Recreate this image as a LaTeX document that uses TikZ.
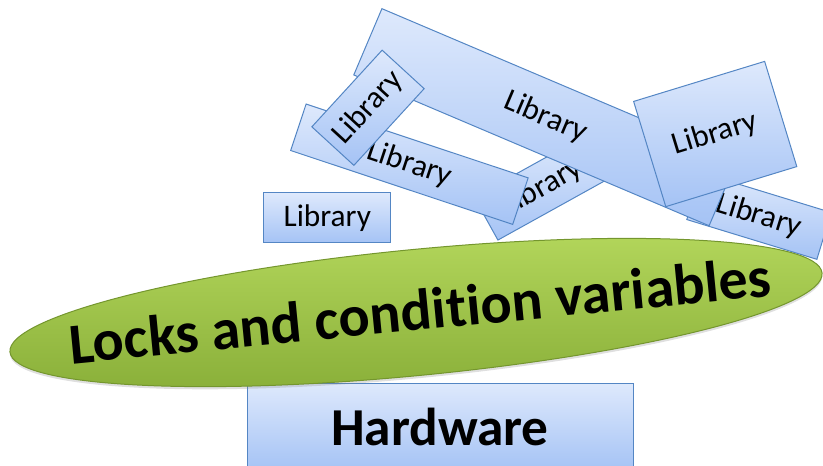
\documentclass[tikz,border=0pt]{standalone}
\usepackage{fontspec}
\setmainfont{Carlito}[RawFeature={-liga}]
\usetikzlibrary{shapes.geometric,shadows}

\definecolor{libTop}{RGB}{222,233,252}
\definecolor{libBot}{RGB}{165,195,245}
\definecolor{libLine}{RGB}{84,134,196}
\definecolor{lockTop}{RGB}{180,215,92}
\definecolor{lockBot}{RGB}{136,174,56}
\definecolor{lockLine}{RGB}{116,150,46}

\tikzset{every picture/.style={line width=0.75pt}}
\tikzset{
  libbox/.style={draw=libLine, top color=libTop, bottom color=libBot, inner sep=0pt,
    font=\fontsize{23.5}{28}\selectfont},
  lockshape/.style={ellipse, draw=lockLine, top color=lockTop, bottom color=lockBot, inner sep=0pt,
    drop shadow={opacity=0.25, shadow xshift=0pt, shadow yshift=-2pt}},
}

\begin{document}
\begin{tikzpicture}[x=0.75pt,y=0.75pt,yscale=-1,xscale=1]
	\useasboundingbox (0,0) rectangle (823,465);

	%Shape: Rectangle [bottom right, under the others]
	\node [libbox, minimum width=102pt, minimum height=36.75pt, rotate=-17] (libRight) at (759,216) {Library};
	%Shape: Rectangle [behind the middle one]
	\node [libbox, minimum width=96pt, minimum height=36.75pt, rotate=29] (libBack) at (542,187.6) {Library};
	%Shape: Rectangle
	\node [libbox, minimum width=175.5pt, minimum height=36.75pt, rotate=-18.4] (libMid) at (409.4,164.2) {Library};
	%Shape: Rectangle [long one]
	\node [libbox, minimum width=289.5pt, minimum height=54pt, rotate=-23] (libLong) at (545.5,117.2) {Library};
	%Shape: Rectangle
	\node [libbox, minimum width=78pt, minimum height=42.75pt, rotate=47.5] (libTilt) at (368,107.75) {Library};
	%Shape: Rectangle
	\node [libbox, minimum width=102.75pt, minimum height=82.5pt, rotate=17] (libSquare) at (715.2,134) {Library};
	%Shape: Rectangle
	\node [libbox, minimum width=95pt, minimum height=37.5pt] (libFlat) at (327.3,217.7) {Library};

	%Shape: Rectangle
	\node [libbox, minimum width=289.5pt, minimum height=65.25pt, font=\bfseries\fontsize{40}{48}\selectfont] (hardware) at (440,426.5) {Hardware};

	%Shape: Ellipse
	\node [lockshape, minimum width=612pt, minimum height=94.5pt, rotate=5.56] (locks) at (416,312.5) {};
	% Text Node
	\node [font=\bfseries\fontsize{43.5}{50}\selectfont, rotate=5.56] (locksText) at (420,310) {Locks and condition variables};

\end{tikzpicture}
\end{document}
